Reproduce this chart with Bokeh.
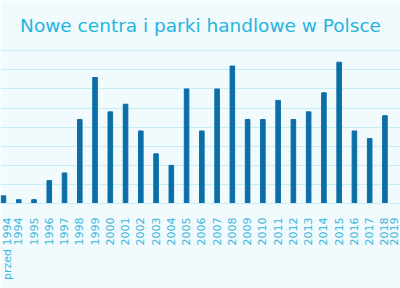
from bokeh.plotting import figure
from bokeh.models import FixedTicker, Range1d, ColumnDataSource
from bokeh.embed import file_html
from bokeh.resources import INLINE
import math

categories = ["przed 1994", "1994", "1995", "1996", "1997", "1998", "1999", "2000",
              "2001", "2002", "2003", "2004", "2005", "2006", "2007", "2008", "2009",
              "2010", "2011", "2012", "2013", "2014", "2015", "2016", "2017", "2018", "2019"]
values = [2, 1, 1, 6, 8, 22, 33, 24, 26, 19, 13, 10, 30, 19, 30, 36, 22, 22, 27, 22,
          24, 29, 37, 19, 17, 23, float("nan")]
y_ticks = [0, 5, 10, 15, 20, 25, 30, 35, 40]

BG = "#f1fbfe"
idx = list(range(len(categories)))
src = ColumnDataSource(dict(x=idx, top=values))

p = figure(width=400, height=288, output_backend="svg", toolbar_location=None,
           x_range=Range1d(-0.196, 26.02), y_range=Range1d(0, 40.6),
           title="Nowe centra i parki handlowe w Polsce",
           min_border_left=0, min_border_right=0, min_border_bottom=85, min_border_top=47)
p.background_fill_color = BG
p.border_fill_color = BG
p.outline_line_color = None

p.title.align = "center"
p.title.text_font = "DejaVu Sans"
p.title.text_font_size = "18.5px"
p.title.text_font_style = "normal"
p.title.text_color = "#27b4dc"
p.title.standoff = 25

p.vbar(x="x", top="top", width=0.3, bottom=0, source=src, color="#0b6ea6")

p.yaxis.visible = False
p.ygrid.ticker = FixedTicker(ticks=y_ticks)
p.ygrid.grid_line_color = "#c6eef6"
p.xgrid.visible = False

p.xaxis.ticker = FixedTicker(ticks=idx)
p.xaxis.major_label_overrides = {i: c for i, c in enumerate(categories)}
p.xaxis.major_label_orientation = math.pi / 2
p.xaxis.major_label_text_font = "DejaVu Sans"
p.xaxis.major_label_text_font_size = "11px"
p.xaxis.major_label_text_color = "#3ab5da"
p.xaxis.axis_line_color = "#c6eef6"
p.xaxis.major_tick_line_color = None
p.xaxis.minor_tick_line_color = None
p.xaxis.major_label_standoff = 8

open("out.html", "w").write(file_html(p, INLINE))
